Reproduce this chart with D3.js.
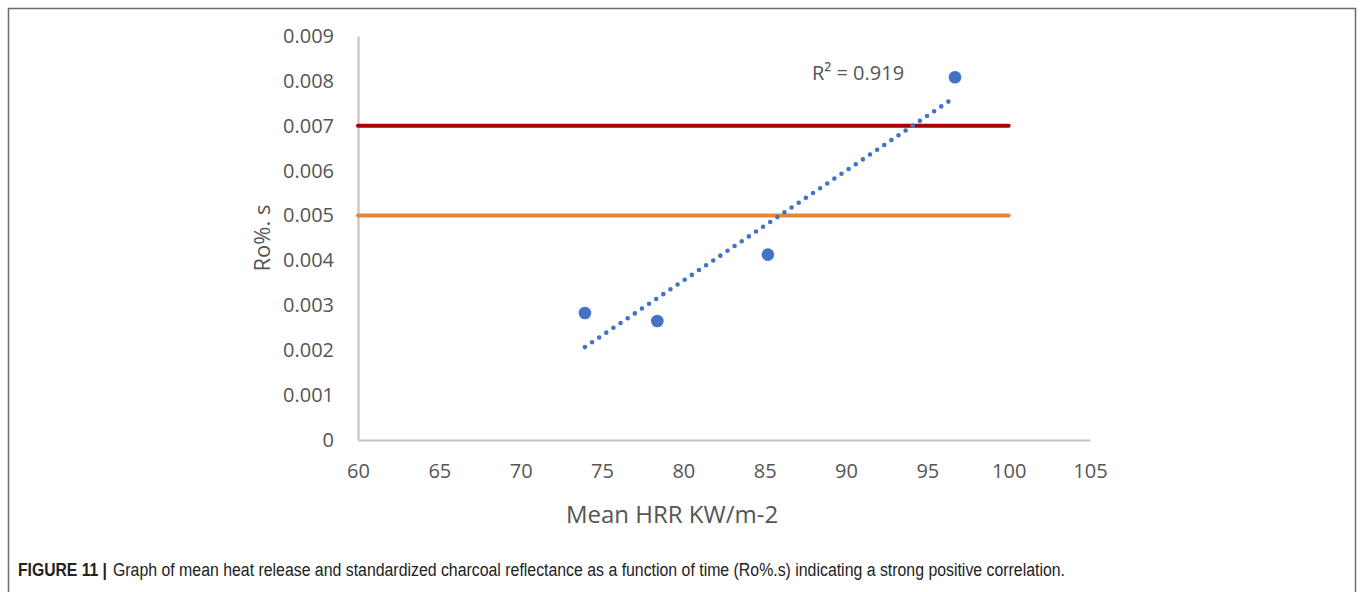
<!DOCTYPE html>
<html>
<head>
<meta charset="utf-8">
<script src="https://cdn.jsdelivr.net/npm/d3@7"></script>
<style>
  html, body { margin: 0; padding: 0; background: #fff; }
  svg { display: block; }
</style>
</head>
<body>
<script>
// ---- Data ----
const meanHRR = [73.95, 78.4, 85.2, 96.7];          // x values (KW/m-2)
const roValues = [0.00283, 0.00265, 0.00413, 0.00808]; // y values (Ro%.s)
const thresholdHigh = [0.007, 0.007];                // dark red reference line
const thresholdLow = [0.005, 0.005];                 // orange reference line
const thresholdX = [60, 100];                        // extent of reference lines
const xTicks = [60, 65, 70, 75, 80, 85, 90, 95, 100, 105];
const yTicks = [0, 0.001, 0.002, 0.003, 0.004, 0.005, 0.006, 0.007, 0.008, 0.009];
const rSquaredLabel = "R\u00B2 = 0.919";
const xTitle = "Mean HRR KW/m-2";
const yTitle = "Ro%. s";
const captionBold = "FIGURE 11 |";
const captionText = "Graph of mean heat release and standardized charcoal reflectance as a function of time (Ro%.s) indicating a strong positive correlation.";

const W = 1360, H = 592;
const svg = d3.select("body").append("svg").attr("width", W).attr("height", H);

// Frame (open at the bottom)
svg.append("path")
  .attr("d", `M8.5,${H} V8.5 H1355.5 V${H}`)
  .attr("fill", "none").attr("stroke", "#6b6b6b").attr("stroke-width", 1.5);

const x = d3.scaleLinear().domain([60, 105]).range([358, 1090]);
const y = d3.scaleLinear().domain([0, 0.009]).range([440, 36]);

const tickFont = "'Open Sans', 'Liberation Sans', sans-serif";
const textColor = "#555555";

// Axes
const yAxis = svg.append("g").attr("transform", `translate(${x(60)},0)`)
  .call(d3.axisLeft(y).tickValues(yTicks).tickSize(0).tickPadding(24)
    .tickFormat(d => d === 0 ? "0" : d3.format(".3f")(d)));
const xAxis = svg.append("g").attr("transform", `translate(0,${y(0)})`)
  .call(d3.axisBottom(x).tickValues(xTicks).tickSize(0).tickPadding(24)
    .tickFormat(d3.format("d")));
[yAxis, xAxis].forEach(g => {
  g.select(".domain").attr("stroke", "#c4c4c4").attr("stroke-width", 2.2);
  g.selectAll("text").attr("font-family", tickFont).attr("font-size", 20)
    .attr("fill", textColor);
});

// Reference lines
const line = d3.line().x(d => x(d[0])).y(d => y(d[1]));
svg.append("path")
  .attr("d", line(thresholdX.map((v, i) => [v, thresholdLow[i]])))
  .attr("stroke", "#e3873c").attr("stroke-width", 4).attr("fill", "none")
  .attr("stroke-linecap", "round");
svg.append("path")
  .attr("d", line(thresholdX.map((v, i) => [v, thresholdHigh[i]])))
  .attr("stroke", "#a80000").attr("stroke-width", 4).attr("fill", "none")
  .attr("stroke-linecap", "round");

// Linear trend line (least squares on the data)
const n = meanHRR.length;
const mx = d3.mean(meanHRR), my = d3.mean(roValues);
let sxy = 0, sxx = 0;
for (let i = 0; i < n; i++) {
  sxy += (meanHRR[i] - mx) * (roValues[i] - my);
  sxx += (meanHRR[i] - mx) ** 2;
}
const slope = sxy / sxx, intercept = my - slope * mx;
const xMin = d3.min(meanHRR), xMax = d3.max(meanHRR);
svg.append("path")
  .attr("d", line([[xMin, intercept + slope * xMin], [xMax, intercept + slope * xMax]]))
  .attr("stroke", "#4472c4").attr("stroke-width", 4.6).attr("fill", "none")
  .attr("stroke-linecap", "round").attr("stroke-dasharray", "0,8.6");

// Points
svg.append("g").selectAll("circle")
  .data(meanHRR.map((v, i) => [v, roValues[i]]))
  .join("circle")
  .attr("cx", d => x(d[0])).attr("cy", d => y(d[1])).attr("r", 6.3)
  .attr("fill", "#4472c4");

// R² label
svg.append("text").attr("x", 812).attr("y", 80)
  .attr("font-family", tickFont).attr("font-size", 20).attr("fill", textColor)
  .text(rSquaredLabel);

// Axis titles
svg.append("text").attr("x", 672).attr("y", 523).attr("text-anchor", "middle")
  .attr("font-family", tickFont).attr("font-size", 24).attr("fill", textColor)
  .text(xTitle);
svg.append("text").attr("transform", "translate(270,238) rotate(-90)")
  .attr("text-anchor", "middle")
  .attr("font-family", tickFont).attr("font-size", 22).attr("fill", textColor)
  .text(yTitle);

// Caption (two separate texts; condensed to match the reference width)
const capFont = "'Liberation Sans Narrow', 'Arial Narrow', 'Liberation Sans', Arial, sans-serif";
const capBold = svg.append("text").attr("x", 18).attr("y", 576)
  .attr("font-family", capFont).attr("font-size", 18).attr("font-weight", "bold")
  .attr("fill", "#222").text(captionBold);
const boldW = capBold.node().getComputedTextLength();
const boldTarget = 89;
if (Math.abs(boldW - boldTarget) > 3) {
  capBold.attr("textLength", boldTarget).attr("lengthAdjust", "spacingAndGlyphs");
}
const restX = 18 + boldTarget + 6;
const capRest = svg.append("text").attr("x", restX).attr("y", 576)
  .attr("font-family", capFont).attr("font-size", 18)
  .attr("fill", "#222").text(captionText);
const restW = capRest.node().getComputedTextLength();
const restTarget = 1065 - restX;
if (Math.abs(restW - restTarget) > 3) {
  capRest.attr("textLength", restTarget).attr("lengthAdjust", "spacingAndGlyphs");
}
</script>
</body>
</html>
